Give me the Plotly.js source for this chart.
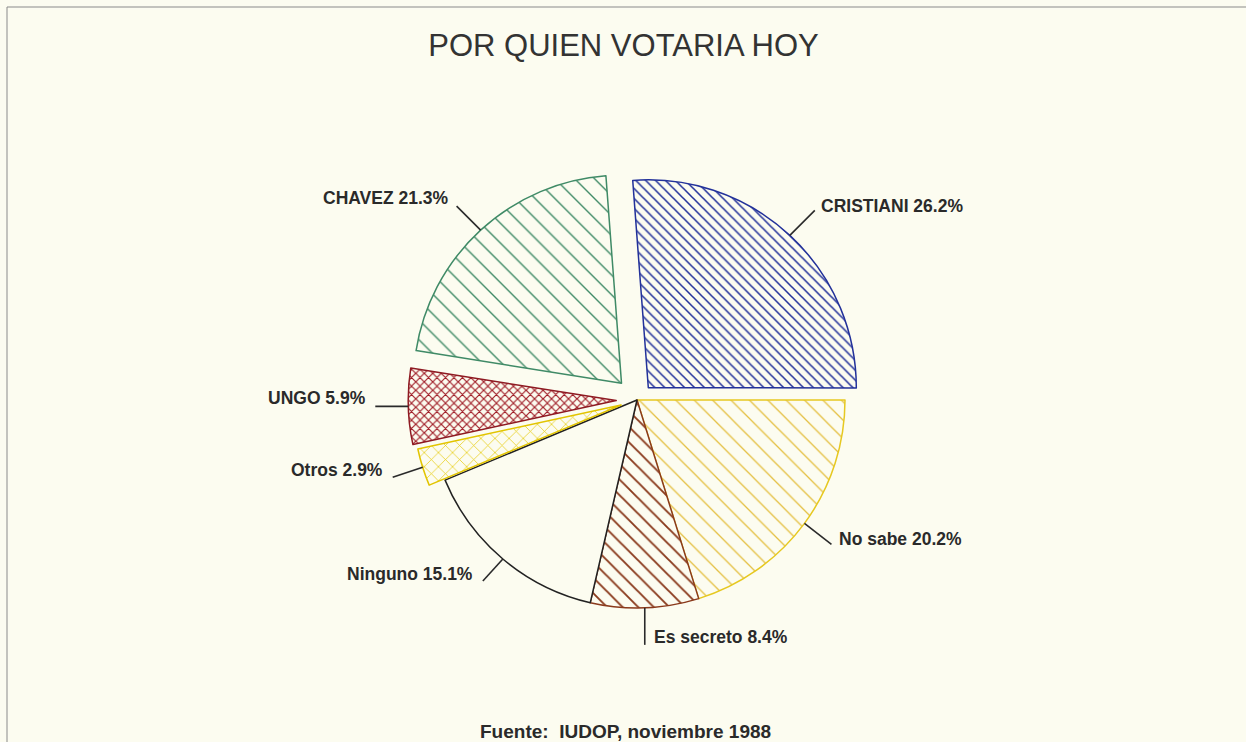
<!DOCTYPE html>
<html>
<head>
<meta charset="utf-8">
<script src="https://cdn.plot.ly/plotly-3.0.1.min.js"></script>
<style>
  html, body { margin: 0; padding: 0; background: #fcfcf0; }
  #chart { width: 1246px; height: 742px; }
</style>
</head>
<body>
<div id="chart"></div>
<script>
// ---- data ----
const categories = ['CRISTIANI', 'No sabe', 'Es secreto', 'Ninguno', 'Otros', 'UNGO', 'CHAVEZ'];
const percentages = [26.2, 20.2, 8.4, 15.1, 2.9, 5.9, 21.3];
const labelTexts = ['CRISTIANI 26.2%', 'No sabe 20.2%', 'Es secreto 8.4%', 'Ninguno 15.1%', 'Otros 2.9%', 'UNGO 5.9%', 'CHAVEZ 21.3%'];
const chartTitle = 'POR QUIEN VOTARIA HOY';
const sourceText = 'Fuente:  IUDOP, noviembre 1988';

// ---- styling ----
const W = 1246, H = 742;
const BG = '#fcfcf0';
const cx = 637, cy = 400, r = 208;
const rotation = -4.3;
const pulls = [0.08, 0, 0, 0, 0.08, 0.10, 0.11];
const lineColors = ['#22319a', '#e6c820', '#8a3a1c', '#222222', '#e2c400', '#8e1a22', '#3f8a66'];
const patShapes = ['\\', '\\', '\\', '', 'x', 'x', '\\'];
const patColors = ['#22319a', '#e4bf40', '#8a3a1c', '#222222', '#e6cc10', '#a01c26', '#3f8a66'];
const patSizes = [7, 13, 11, 10, 10, 6, 14];
const patSolid = [0.22, 0.1, 0.17, 0.1, 0.14, 0.35, 0.1];
// leader line offsets (px) from slice edge, and text offsets from line end
const lead = [[25, -25], [27, 21], [0, 37], [-20, 22], [-30, 10], [-33, 0], [-24, -24]];
const txtOff = [[4, -4], [6, -5], [7, -8], [-8, -7], [-8, -7], [-7, -8], [-6, -8]];
const txtSide = ['left', 'left', 'left', 'right', 'right', 'right', 'right'];

const maxPull = Math.max(...pulls);
const R = r * (1 + maxPull);
const domain = {
  x: [(cx - R) / W, (cx + R) / W],
  y: [1 - (cy + R) / H, 1 - (cy - R) / H]
};

const total = percentages.reduce((a, b) => a + b, 0);
const shapes = [];
const annotations = [];
let cum = 0;
percentages.forEach((v, i) => {
  const ang = (rotation + (cum + v / 2) / total * 360) * Math.PI / 180;
  cum += v;
  const rr = r * (1 + pulls[i]);
  const hx = cx + rr * Math.sin(ang);
  const hy = cy - rr * Math.cos(ang);
  const tx = hx + lead[i][0];
  const ty = hy + lead[i][1];
  shapes.push({
    type: 'line', xref: 'paper', yref: 'paper',
    x0: hx / W, y0: 1 - hy / H, x1: tx / W, y1: 1 - ty / H,
    line: { color: '#2a2a2a', width: 1.6 }
  });
  annotations.push({
    xref: 'paper', yref: 'paper',
    x: (tx + txtOff[i][0]) / W, y: 1 - (ty + txtOff[i][1]) / H,
    xanchor: txtSide[i], yanchor: 'middle',
    text: labelTexts[i], showarrow: false,
    font: { family: 'Liberation Sans, Arial, sans-serif', size: 17.5, color: '#2a2a2a', weight: 'bold' }
  });
});

// page frame
shapes.push({
  type: 'rect', xref: 'paper', yref: 'paper',
  x0: 7 / W, y0: -0.05, x1: 1.05, y1: 1 - 7 / H,
  line: { color: '#8a8a8a', width: 1 }
});

annotations.push({
  xref: 'paper', yref: 'paper', x: 625 / W, y: 1 - 731 / H,
  xanchor: 'center', yanchor: 'middle', showarrow: false,
  text: sourceText,
  font: { family: 'Liberation Sans, Arial, sans-serif', size: 19, color: '#2a2a2a', weight: 'bold' }
});

const trace = {
  type: 'pie',
  labels: categories,
  values: percentages,
  sort: false,
  direction: 'clockwise',
  rotation: rotation,
  pull: pulls,
  textinfo: 'none',
  hoverinfo: 'label+percent',
  showlegend: false,
  domain: domain,
  marker: {
    colors: categories.map(() => BG),
    line: { color: lineColors, width: 1.5 },
    pattern: {
      shape: patShapes,
      fgcolor: patColors,
      bgcolor: categories.map(() => BG),
      size: patSizes,
      solidity: patSolid,
      fillmode: 'replace'
    }
  }
};

const layout = {
  width: W, height: H,
  margin: { l: 0, r: 0, t: 0, b: 0 },
  paper_bgcolor: BG,
  plot_bgcolor: BG,
  title: {
    text: chartTitle,
    x: 623.5 / W, xanchor: 'center',
    y: 1 - 45 / H, yanchor: 'middle',
    font: { family: 'Liberation Sans, Arial, sans-serif', size: 31, color: '#333333' }
  },
  shapes: shapes,
  annotations: annotations
};

Plotly.newPlot('chart', [trace], layout, { displayModeBar: false, staticPlot: true });
</script>
</body>
</html>
